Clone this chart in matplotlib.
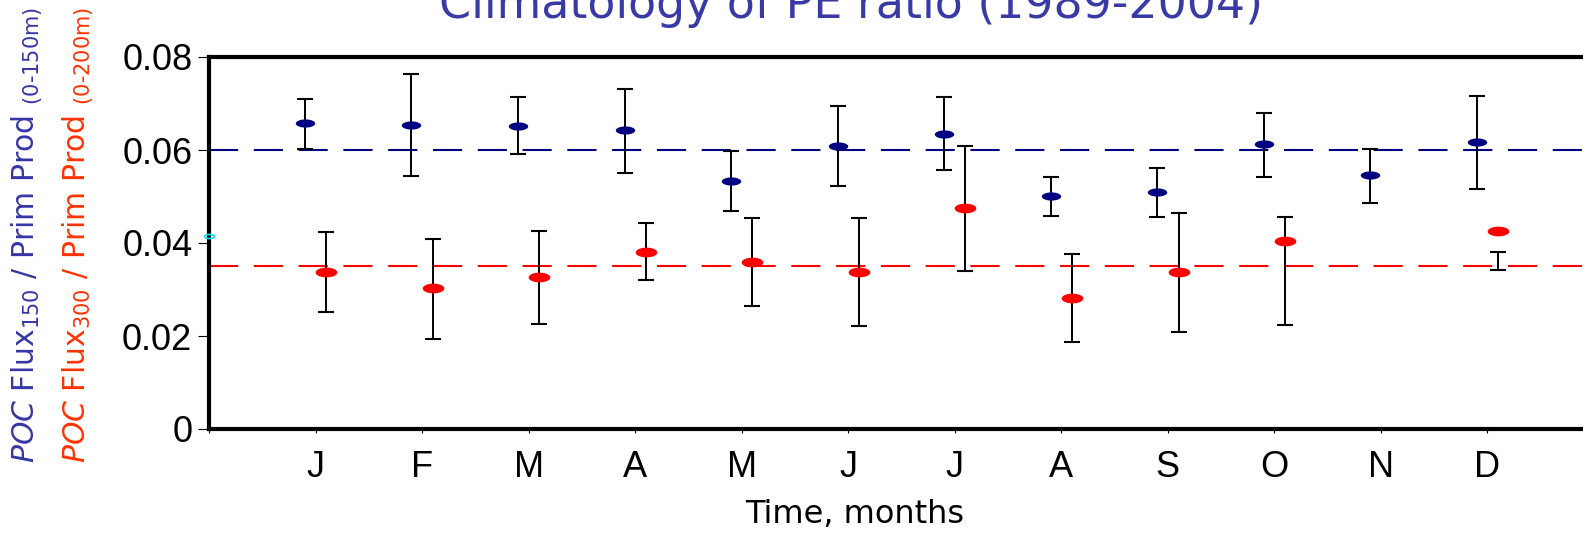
import numpy as np
import matplotlib
matplotlib.use("Agg")
import matplotlib.pyplot as plt

months = ["J", "F", "M", "A", "M", "J", "J", "A", "S", "O", "N", "D"]

# POC flux 150 / prim prod (0-150m)
blue_mean = [0.0658, 0.0653, 0.0652, 0.0642, 0.0534, 0.0609, 0.0634, 0.0501, 0.0510, 0.0612, 0.0546, 0.0617]
blue_hi = [0.0710, 0.0763, 0.0713, 0.0731, 0.0598, 0.0695, 0.0713, 0.0543, 0.0562, 0.0680, 0.0603, 0.0716]
blue_lo = [0.0603, 0.0545, 0.0591, 0.0550, 0.0468, 0.0522, 0.0557, 0.0459, 0.0455, 0.0543, 0.0487, 0.0516]

# POC flux 300 / prim prod (0-200m), no value in November
red_mean = [0.0338, 0.0303, 0.0327, 0.0381, 0.0360, 0.0338, 0.0476, 0.0282, 0.0338, 0.0405, np.nan, 0.0426]
red_hi = [0.0424, 0.0409, 0.0426, 0.0442, 0.0454, 0.0453, 0.0609, 0.0377, 0.0465, 0.0456, np.nan, 0.0380]
red_lo = [0.0251, 0.0194, 0.0225, 0.0320, 0.0265, 0.0222, 0.0340, 0.0187, 0.0209, 0.0223, np.nan, 0.0342]

blue_ref = 0.060
red_ref = 0.035
stray_point = 0.0415

BLUE = "#000080"
RED = "#ff0000"

W, H = 1583, 536
fig = plt.figure(figsize=(W / 100, H / 100), dpi=100)
ax = fig.add_axes([209 / W, (H - 429) / H, (1594 - 209) / W, (429 - 57) / H])

x = np.arange(1, 13)

t = np.linspace(0, 2 * np.pi, 60)
ell_blue = np.column_stack([np.cos(t), 0.42 * np.sin(t)])
ell_red = np.column_stack([np.cos(t), 0.45 * np.sin(t)])

dash = (0, (14, 7.5))
ax.axhline(blue_ref, color=BLUE, lw=1.5, ls=dash, zorder=1)
ax.axhline(red_ref, color=RED, lw=1.5, ls=dash, zorder=1)

xb = x - 0.1
xr = x + 0.1
ax.vlines(xb, blue_lo, blue_hi, color="black", lw=1.4, zorder=2)
ax.plot(xb, blue_lo, ls="none", marker="_", ms=11, mew=1.5, color="black", zorder=2)
ax.plot(xb, blue_hi, ls="none", marker="_", ms=11, mew=1.5, color="black", zorder=2)
ax.vlines(xr, red_lo, red_hi, color="black", lw=1.4, zorder=2)
ax.plot(xr, red_lo, ls="none", marker="_", ms=11, mew=1.5, color="black", zorder=2)
ax.plot(xr, red_hi, ls="none", marker="_", ms=11, mew=1.5, color="black", zorder=2)

ax.plot(xb, blue_mean, ls="none", marker=ell_blue, ms=14, color=BLUE, mew=0, zorder=3)
ax.plot(xr, red_mean, ls="none", marker=ell_red, ms=15.6, color=RED, mew=0, zorder=3)

ax.plot([0], [stray_point], ls="none", marker=ell_blue, ms=7, mfc="none",
        mec="#00e5ff", mew=1.2, clip_on=False, zorder=5)

ax.set_xlim(0, 13)
ax.set_ylim(0, 0.08)
ax.set_yticks([0, 0.02, 0.04, 0.06, 0.08])
ax.set_yticklabels(["0", "0.02", "0.04", "0.06", "0.08"])
ax.set_xticks([0] + list(x))
ax.set_xticklabels([""] + months)

for s in ax.spines.values():
    s.set_linewidth(3)
ax.tick_params(axis="y", direction="out", length=8, width=0.8, pad=4,
               labelsize=26, labelfontfamily="Liberation Sans")
ax.tick_params(axis="x", direction="out", length=3, width=0.8, pad=12,
               labelsize=26, labelfontfamily="Liberation Sans")

fig.text(851 / W, 1 - 18 / H, "Climatology of PE ratio (1989-2004)",
         color="#3a3aa6", fontsize=33, ha="center", va="baseline")
fig.text(855 / W, 1 - 523 / H, "Time, months", color="black", fontsize=23,
         ha="center", va="baseline")

fig.text(27 / W, 1 - 463 / H,
         r"$\mathit{POC}$ Flux$_{150}$ / Prim Prod $_{\text{(0-150m)}}$",
         color="#3535a5", fontsize=21.5, rotation=90, ha="center", va="bottom")
fig.text(78 / W, 1 - 463 / H,
         r"$\mathit{POC}$ Flux$_{300}$ / Prim Prod $_{\text{(0-200m)}}$",
         color="#ff3300", fontsize=21.5, rotation=90, ha="center", va="bottom")

fig.savefig("out.png", dpi=100)
